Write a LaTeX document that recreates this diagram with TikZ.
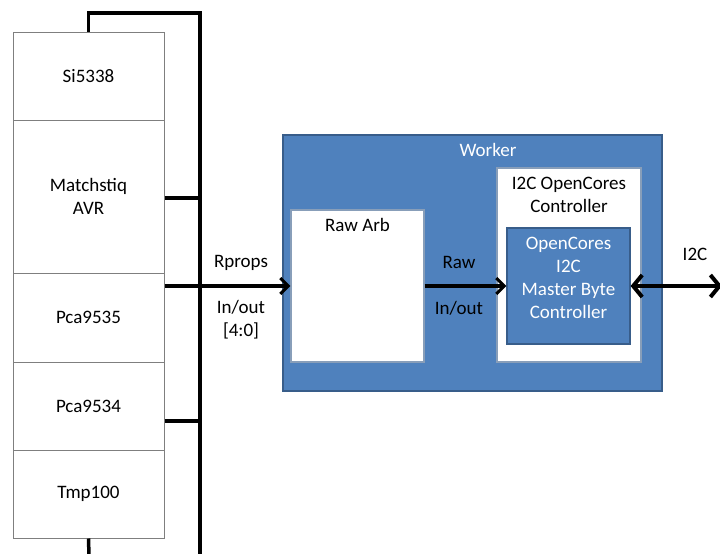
\documentclass[tikz,border=0pt]{standalone}
\usepackage{fontspec}
\setmainfont{Carlito}
\usetikzlibrary{arrows.meta,calc}
\definecolor{ofblue}{HTML}{4F81BD}
\definecolor{ofborder}{HTML}{385D8A}
\definecolor{boxgray}{HTML}{7F7F7F}
\begin{document}
\begin{tikzpicture}[x=1pt,y=-1pt,
  txt/.style={font=\fontsize{19}{23}\selectfont,align=center,inner sep=0pt},
  dev/.style={draw=boxgray,line width=1pt,fill=white,minimum width=151pt,inner sep=0pt,txt},
  bus/.style={line width=3.5pt,line cap=butt},
  arr/.style={line width=3.2pt,-{Straight Barb[length=8pt,width=16pt,line width=3pt]}},
  darr/.style={line width=4.5pt,{Straight Barb[length=9pt,width=22pt,line width=4pt]}-{Straight Barb[length=9pt,width=22pt,line width=4pt]}},
  blubox/.style={draw=ofborder,line width=1.6pt,fill=ofblue},
  whitebox/.style={draw=ofborder!60,line width=1.2pt,fill=white}]
\useasboundingbox (0,0) rectangle (720,554);
% devices
\node[dev,minimum height=88pt] (si) at (88.5,76) {Si5338};
\node[dev,minimum height=153pt] (mq) at (88.5,196.5) {Matchstiq\\AVR};
\node[dev,minimum height=89pt] (p35) at (88.5,317.5) {Pca9535};
\node[dev,minimum height=88pt] (p34) at (88.5,406) {Pca9534};
\node[dev,minimum height=88pt] (tmp) at (88.5,494) {Tmp100};
% worker
\node[blubox,minimum width=379pt,minimum height=256pt,inner sep=0pt] (worker) at (472.5,263) {};
\node[txt,text=white] (wl) at (488,150) {Worker};
\node[whitebox,minimum width=133pt,minimum height=152pt,inner sep=0pt] (arb) at (357.5,286) {};
\node[txt] (arbl) at (357.5,225) {Raw Arb};
\node[whitebox,minimum width=144pt,minimum height=194pt,inner sep=0pt] (ctl) at (569,265) {};
\node[txt] (ctll) at (569,195) {I2C OpenCores\\Controller};
\node[blubox,line width=1.2pt,minimum width=123pt,minimum height=116pt,inner sep=0pt] (mbc) at (568.5,286) {};
\node[txt,text=white] (mbcl) at (568.5,278) {OpenCores\\I2C\\Master Byte\\Controller};
% bus
\coordinate (bt) at (200,13);
\coordinate (bb) at (200,556);
\coordinate (lb) at (89,556);
\coordinate (i2cend) at (722,286);
\draw[bus] (si.north) |- (bt) -- (bb);
\draw[bus] (tmp.south) -- (lb);
\draw[bus] (mq.east |- 0,198) -- (200,198);
\draw[bus] (p34.east |- 0,421) -- (200,421);
\draw[arr] (p35.east |- arb.west) -- (arb.west);
\draw[arr] (arb.east) -- (mbc.west);
\draw[darr] (mbc.east) -- (i2cend);
% labels
\node[txt] (rp) at (241,263) {Rprops};
\node[txt] (rpio) at (241,320) {In/out\\{}[4:0]};
\node[txt] (raw) at (459,262) {Raw};
\node[txt] (rawio) at (459,308) {In/out};
\node[txt] (i2c) at (695,254) {I2C};
\end{tikzpicture}
\end{document}
